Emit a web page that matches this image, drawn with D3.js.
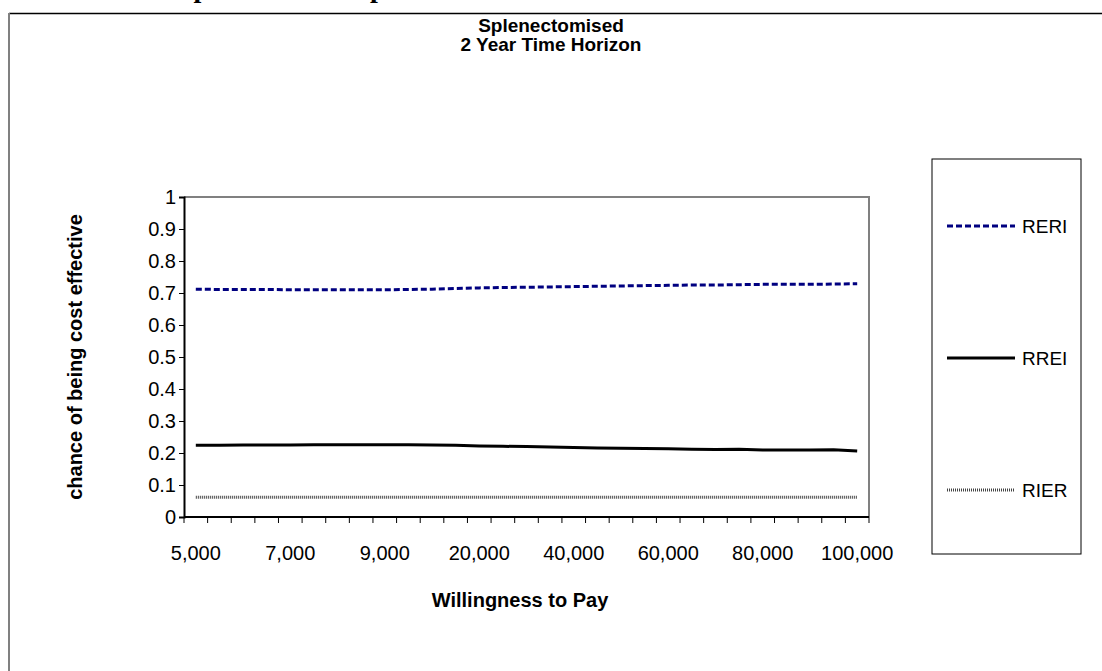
<!DOCTYPE html>
<html>
<head>
<meta charset="utf-8">
<script src="https://cdn.jsdelivr.net/npm/d3@7"></script>
<style>
  html, body { margin: 0; padding: 0; background: #fff; }
  svg { display: block; }
  text { font-family: "Liberation Sans", Arial, sans-serif; fill: #000; }
</style>
</head>
<body>
<svg id="chart" width="1102" height="671"></svg>
<script>
// Willingness-to-pay thresholds (category axis)
const wtp = [5000, 5500, 6000, 6500, 7000, 7500, 8000, 8500, 9000, 9500, 10000,
  15000, 20000, 25000, 30000, 35000, 40000, 45000, 50000, 55000, 60000,
  65000, 70000, 75000, 80000, 85000, 90000, 95000, 100000];
// Categories that carry a tick label
const labelledWtp = [5000, 7000, 9000, 20000, 40000, 60000, 80000, 100000];
// Probability of being cost effective for each strategy
const reri = [0.712, 0.711, 0.711, 0.711, 0.710, 0.710, 0.710, 0.710, 0.710, 0.711, 0.712,
  0.714, 0.716, 0.717, 0.718, 0.719, 0.720, 0.721, 0.722, 0.723, 0.724,
  0.725, 0.725, 0.726, 0.727, 0.727, 0.727, 0.728, 0.729];
const rrei = [0.224, 0.224, 0.225, 0.225, 0.225, 0.226, 0.226, 0.226, 0.226, 0.226, 0.225,
  0.224, 0.222, 0.221, 0.220, 0.219, 0.217, 0.216, 0.215, 0.214, 0.213,
  0.212, 0.211, 0.212, 0.209, 0.209, 0.209, 0.210, 0.206];
const rier = [0.062, 0.062, 0.062, 0.062, 0.062, 0.062, 0.062, 0.062, 0.062, 0.062, 0.062,
  0.062, 0.062, 0.062, 0.062, 0.062, 0.062, 0.062, 0.062, 0.062, 0.062,
  0.062, 0.062, 0.062, 0.062, 0.062, 0.062, 0.062, 0.062];
const seriesNames = ["RERI", "RREI", "RIER"];
const yTicks = [0, 0.1, 0.2, 0.3, 0.4, 0.5, 0.6, 0.7, 0.8, 0.9, 1];

const series = [
  { name: seriesNames[0], values: reri, color: "#000080", width: 3, dash: "6,3" },
  { name: seriesNames[1], values: rrei, color: "#000000", width: 3, dash: null },
  { name: seriesNames[2], values: rier, color: "#444444", width: 3, dash: "1,1" }
];

const svg = d3.select("#chart");

// Page heading partly cut off at the top edge
svg.append("text")
  .attr("x", 178).attr("y", -3)
  .style("font-family", "'Liberation Serif', 'Times New Roman', serif")
  .style("font-weight", "bold").style("font-size", "28px")
  .text("Splenectomised patients");

// Chart area frame (extends past the page edge at right and bottom)
svg.append("line").attr("x1", 9).attr("x2", 1110).attr("y1", 13.5).attr("y2", 13.5)
  .attr("stroke", "#000").attr("stroke-width", 1.5);
svg.append("line").attr("x1", 9).attr("x2", 9).attr("y1", 13).attr("y2", 680)
  .attr("stroke", "#808080").attr("stroke-width", 2);

// Titles
const title = svg.append("text").attr("text-anchor", "middle")
  .style("font-weight", "bold").style("font-size", "19px");
title.append("tspan").attr("x", 551).attr("y", 32).text("Splenectomised");
title.append("tspan").attr("x", 551).attr("y", 51).text("2 Year Time Horizon");

const plot = { left: 184, right: 869, top: 197, bottom: 517 };

const x = d3.scaleBand().domain(wtp).range([plot.left, plot.right]).paddingInner(0).paddingOuter(0);
const y = d3.scaleLinear().domain([0, 1]).range([plot.bottom, plot.top]);

// Plot area border (top and right in grey)
svg.append("path")
  .attr("d", `M${plot.left},${plot.top}H${plot.right}V${plot.bottom}`)
  .attr("fill", "none").attr("stroke", "#808080").attr("stroke-width", 2);

// Y axis
const yAxis = d3.axisLeft(y).tickValues(yTicks).tickSize(5).tickPadding(3)
  .tickFormat(d => (d === 0 || d === 1) ? String(d) : d.toFixed(1));
const gy = svg.append("g").attr("transform", `translate(${plot.left},0)`).call(yAxis);
gy.select(".domain").attr("stroke", "#000").attr("stroke-width", 2);
gy.selectAll(".tick line").attr("stroke", "#000").attr("stroke-width", 1);
gy.selectAll(".tick text").style("font-size", "20px").style("font-family", "'Liberation Sans', Arial, sans-serif");

// X axis: ticks between categories, labels on every fourth category
const gx = svg.append("g").attr("transform", `translate(0,${plot.bottom})`);
gx.append("line").attr("x1", plot.left).attr("x2", plot.right).attr("stroke", "#000").attr("stroke-width", 2);
const edges = wtp.map(d => x(d)).concat([x(wtp[wtp.length - 1]) + x.bandwidth()]);
gx.selectAll("line.tk").data(edges).join("line").attr("class", "tk")
  .attr("x1", d => d).attr("x2", d => d).attr("y1", 0).attr("y2", 6)
  .attr("stroke", "#000").attr("stroke-width", 1);
gx.selectAll("text.lbl").data(labelledWtp).join("text").attr("class", "lbl")
  .attr("x", d => x(d) + x.bandwidth() / 2).attr("y", 43)
  .attr("text-anchor", "middle").style("font-size", "20px")
  .text(d => d3.format(",")(d));

// Axis titles
svg.append("text").attr("x", 520).attr("y", 607).attr("text-anchor", "middle")
  .style("font-weight", "bold").style("font-size", "20px").text("Willingness to Pay");
svg.append("text").attr("transform", `translate(82,${(plot.top + plot.bottom) / 2}) rotate(-90)`)
  .attr("text-anchor", "middle").style("font-weight", "bold").style("font-size", "20px")
  .text("chance of being cost effective");

// Series lines
const line = d3.line().x((d, i) => x(wtp[i]) + x.bandwidth() / 2).y(d => y(d));
series.forEach(s => {
  svg.append("path").datum(s.values)
    .attr("d", line).attr("fill", "none")
    .attr("stroke", s.color).attr("stroke-width", s.width)
    .attr("stroke-dasharray", s.dash);
});

// Legend
const legend = { x: 932, y: 159, w: 149, h: 395 };
svg.append("rect").attr("x", legend.x).attr("y", legend.y).attr("width", legend.w).attr("height", legend.h)
  .attr("fill", "#fff").attr("stroke", "#000").attr("stroke-width", 1);
const legendY = d3.scalePoint().domain(seriesNames).range([226, 490]);
series.forEach(s => {
  const ly = legendY(s.name);
  svg.append("line").attr("x1", 947).attr("x2", 1015).attr("y1", ly).attr("y2", ly)
    .attr("stroke", s.color).attr("stroke-width", s.width).attr("stroke-dasharray", s.dash);
  svg.append("text").attr("x", 1022).attr("y", ly + 7).style("font-size", "19px").text(s.name);
});
</script>
</body>
</html>
